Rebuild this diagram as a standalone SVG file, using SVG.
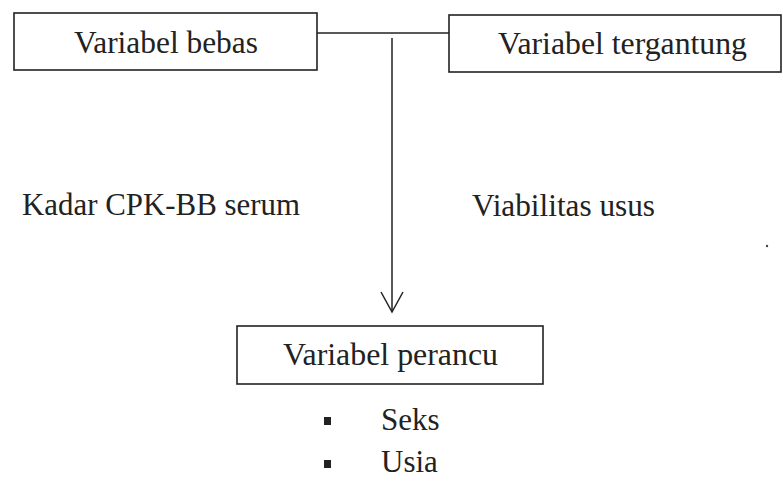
<svg xmlns="http://www.w3.org/2000/svg" width="783" height="496" viewBox="0 0 783 496">
<style>
  .box { fill: #ffffff; stroke: #222; stroke-width: 1.6; }
  .ln { fill: none; stroke: #222; stroke-width: 1.5; }
  .t { font-family: "Liberation Serif", "DejaVu Serif", serif; font-size: 31px; fill: #222; }
  .bul { fill: #222; }
</style>
<rect width="783" height="496" fill="#ffffff"/>
<g id="connectors">
  <line class="ln" x1="317" y1="33" x2="449" y2="33"/>
  <line class="ln" x1="392" y1="38" x2="392" y2="312"/>
  <polyline class="ln" points="381,292 392,312 403,292"/>
</g>
<g id="node-variabel-bebas">
  <rect class="box" x="14" y="13" width="303" height="57"/>
  <text class="t" x="74" y="53" textLength="184" lengthAdjust="spacingAndGlyphs">Variabel bebas</text>
</g>
<g id="node-variabel-tergantung">
  <rect class="box" x="449" y="15" width="332" height="57"/>
  <text class="t" x="498" y="54" textLength="249" lengthAdjust="spacingAndGlyphs">Variabel tergantung</text>
</g>
<g id="label-kadar">
  <text class="t" x="22" y="215" textLength="278" lengthAdjust="spacingAndGlyphs">Kadar CPK-BB serum</text>
</g>
<g id="label-viabilitas">
  <text class="t" x="472" y="216" textLength="183" lengthAdjust="spacingAndGlyphs">Viabilitas usus</text>
</g>
<g id="node-variabel-perancu">
  <rect class="box" x="237" y="326" width="306" height="58"/>
  <text class="t" x="283" y="365" textLength="215" lengthAdjust="spacingAndGlyphs">Variabel perancu</text>
</g>
<g id="list">
  <rect class="bul" x="324" y="417" width="7" height="8"/>
  <text class="t" x="381" y="430">Seks</text>
  <rect class="bul" x="324" y="460" width="7" height="8"/>
  <text class="t" x="381" y="472">Usia</text>
</g>
<circle cx="767" cy="246" r="1.2" fill="#444"/>
</svg>
